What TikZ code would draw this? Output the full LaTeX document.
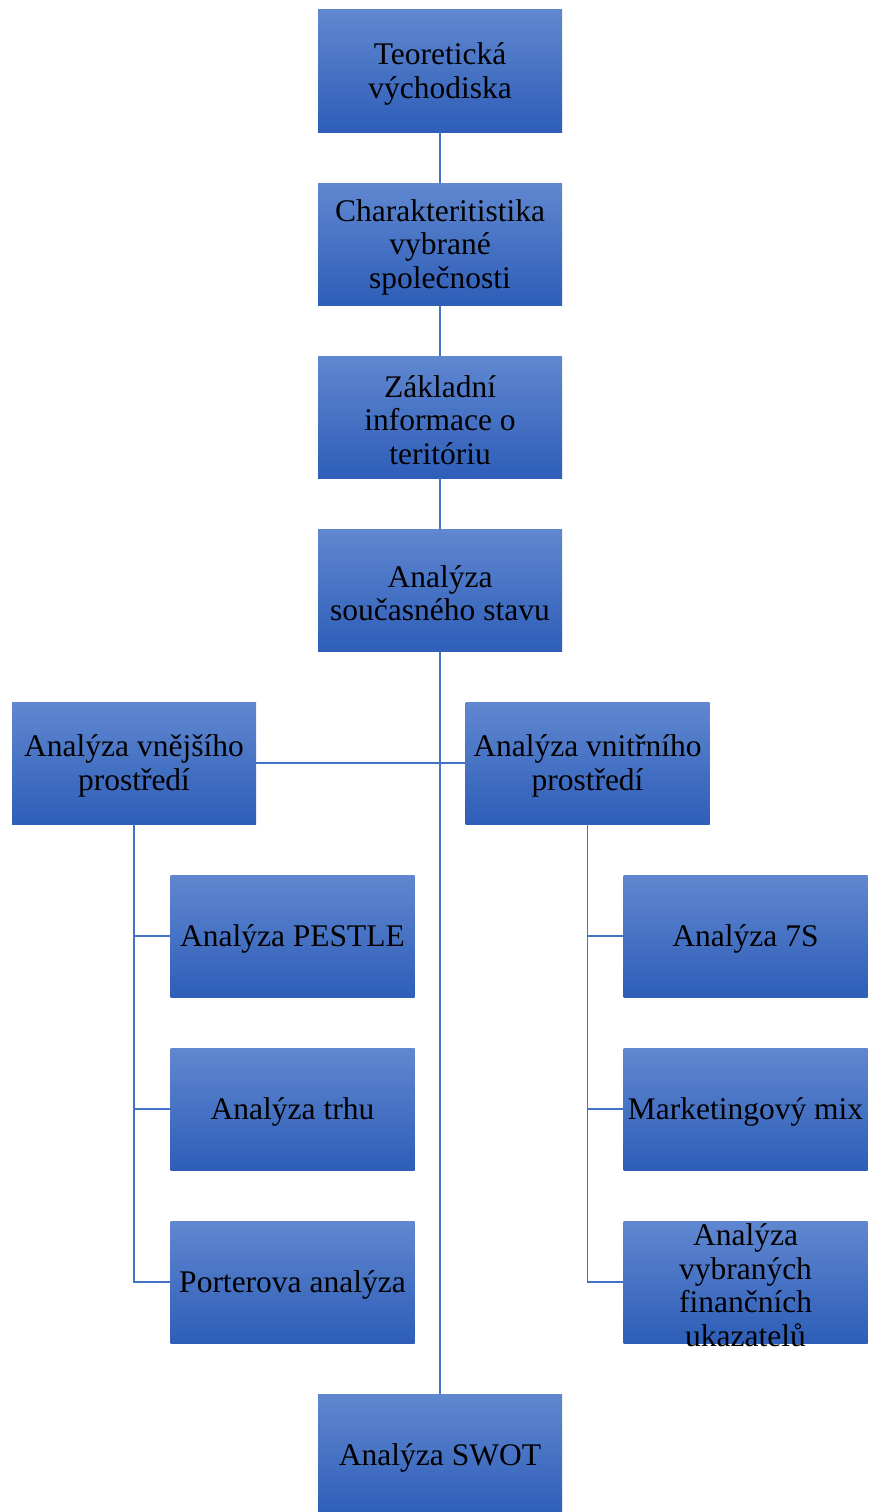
\documentclass[tikz,border=0pt]{standalone}
\usepackage{fontspec}
\setmainfont{Liberation Serif}
\definecolor{boxtop}{RGB}{96,135,208}
\definecolor{boxbot}{RGB}{46,94,184}
\definecolor{linecol}{RGB}{68,114,196}
\begin{document}
\begin{tikzpicture}[x=1pt,y=-1pt,
  box/.style={rectangle, minimum width=244pt, minimum height=122pt, inner sep=0pt, top color=boxtop, bottom color=boxbot, draw=none},
  lbl/.style={align=center, font=\fontsize{31.5}{33.5}\selectfont, text=black, inner sep=0pt, yshift=-3pt},
  conn/.style={draw=linecol, line width=1.2pt}]
\clip (0,0) rectangle (868,1512);
\useasboundingbox (0,0) rectangle (868,1512);
\fill[white] (0,0) rectangle (868,1512);

\node[box, label={[lbl]center:{Teoretická\\východiska}}] (t1) at (440,71) {};
\node[box, label={[lbl]center:{Charakteritistika\\vybrané\\společnosti}}] (t2) at (440,244) {};
\node[box, label={[lbl]center:{Základní\\informace o\\teritóriu}}] (t3) at (440,417) {};
\node[box, label={[lbl]center:{Analýza\\současného stavu}}] (t4) at (440,590) {};
\node[box, label={[lbl]center:{Analýza vnějšího\\prostředí}}] (L) at (134,763) {};
\node[box, label={[lbl]center:{Analýza vnitřního\\prostředí}}] (R) at (587.5,763) {};
\node[box, label={[lbl]center:{Analýza PESTLE}}] (L1) at (292.5,936) {};
\node[box, label={[lbl]center:{Analýza trhu}}] (L2) at (292.5,1109) {};
\node[box, label={[lbl]center:{Porterova analýza}}] (L3) at (292.5,1282) {};
\node[box, label={[lbl]center:{Analýza 7S}}] (R1) at (745.5,936) {};
\node[box, label={[lbl]center:{Marketingový mix}}] (R2) at (745.5,1109) {};
\node[box, label={[lbl]center:{Analýza\\vybraných\\finančních\\ukazatelů}}] (R3) at (745.5,1282) {};
\node[box, label={[lbl]center:{Analýza SWOT}}] (S) at (440,1455) {};

\draw[conn] (t1.south) -- (t2.north);
\draw[conn] (t2.south) -- (t3.north);
\draw[conn] (t3.south) -- (t4.north);
\draw[conn] (t4.south) -- (S.north);
\draw[conn] (L.east) -- (R.west);
\draw[conn] (L.south) |- (L1.west);
\draw[conn] (L.south) |- (L2.west);
\draw[conn] (L.south) |- (L3.west);
\draw[conn] (R.south) |- (R1.west);
\draw[conn] (R.south) |- (R2.west);
\draw[conn] (R.south) |- (R3.west);
\end{tikzpicture}
\end{document}
